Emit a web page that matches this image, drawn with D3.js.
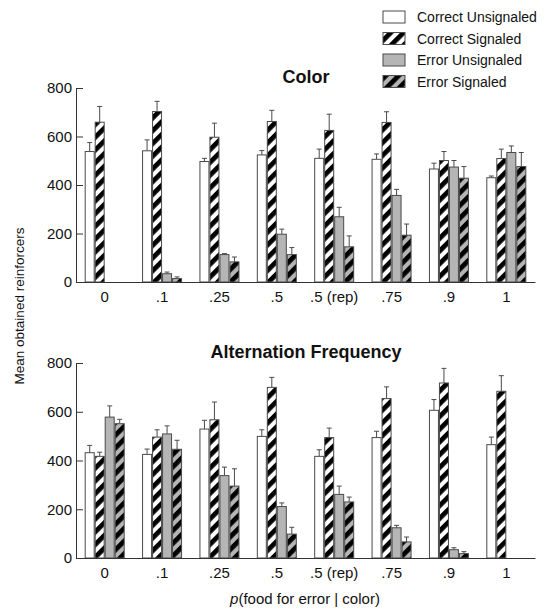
<!DOCTYPE html>
<html><head><meta charset="utf-8">
<script src="https://cdn.jsdelivr.net/npm/d3@7"></script>
<style>body{margin:0;background:#fff;} text{font-family:"Liberation Sans",Arial,sans-serif;}</style>
</head><body><svg id="c" width="555" height="610"></svg>
<script>
const categories = ["0", ".1", ".25", ".5", ".5 (rep)", ".75", ".9", "1"];
const seriesNames = ["Correct Unsignaled", "Correct Signaled", "Error Unsignaled", "Error Signaled"];
const yTicks = [0, 200, 400, 600, 800];

// Color panel
const colorCU = [538, 541, 497, 524, 510, 506, 466, 430];
const colorCU_err = [575, 586, 510, 542, 548, 528, 490, 437];
const colorCS = [659, 703, 597, 662, 625, 658, 501, 509];
const colorCS_err = [724, 745, 655, 708, 692, 702, 538, 548];
const colorEU = [null, 34, 113, 197, 269, 357, 474, 534];
const colorEU_err = [null, 41, 117, 218, 308, 382, 501, 561];
const colorES = [null, 14, 83, 113, 145, 193, 428, 476];
const colorES_err = [null, 21, 103, 142, 190, 239, 476, 534];

// Alternation Frequency panel
const altCU = [432, 425, 529, 499, 417, 494, 606, 465];
const altCU_err = [462, 447, 565, 526, 444, 520, 650, 496];
const altCS = [417, 496, 567, 700, 494, 654, 718, 684];
const altCS_err = [434, 526, 640, 741, 533, 702, 778, 748];
const altEU = [578, 509, 338, 211, 261, 124, 34, null];
const altEU_err = [624, 542, 373, 226, 295, 134, 42, null];
const altES = [551, 446, 295, 98, 230, 66, 18, null];
const altES_err = [569, 483, 366, 126, 250, 86, 26, null];

const svg = d3.select("#c");
const defs = svg.append("defs");
function hatch(id, bg){
  const p = defs.append("pattern").attr("id", id).attr("patternUnits","userSpaceOnUse")
    .attr("width", 9).attr("height", 9).attr("patternTransform","rotate(45)");
  p.append("rect").attr("width",9).attr("height",9).attr("fill",bg);
  p.append("rect").attr("width",4.8).attr("height",9).attr("fill","#000");
}
hatch("hw", "#fff");
hatch("hg", "#b5b5b5");
const fills = ["#fff", "url(#hw)", "#b5b5b5", "url(#hg)"];
const strokeC = "#4a4a4a";

const x = d3.scaleBand().domain(categories).range([76, 535]);
const barW = 9, barStep = 10;

function panel(title, y0, y1, data){
  const y = d3.scaleLinear().domain([0, 800]).range([y0, y1]);
  const g = svg.append("g");
  data.forEach((s, k) => {
    categories.forEach((c, i) => {
      const v = s.vals[i];
      if (v == null) return;
      const bx = x(c) + x.bandwidth()/2 - 19.5 + k*barStep;
      const e = s.errs[i];
      const cx = bx + barW/2;
      g.append("line").attr("x1", cx).attr("x2", cx).attr("y1", y(v)).attr("y2", y(e))
        .attr("stroke", strokeC).attr("stroke-width", 1);
      g.append("line").attr("x1", cx-2.5).attr("x2", cx+2.5).attr("y1", y(e)).attr("y2", y(e))
        .attr("stroke", strokeC).attr("stroke-width", 1);
      g.append("rect").attr("x", bx).attr("y", y(v)).attr("width", barW).attr("height", y(0)-y(v))
        .attr("fill", fills[k]).attr("stroke", strokeC).attr("stroke-width", 1);
    });
  });
  const ya = g.append("g").attr("transform", "translate(76,0)")
    .call(d3.axisLeft(y).tickValues(yTicks).tickSizeInner(-7).tickSizeOuter(0).tickPadding(4));
  ya.select(".domain").attr("stroke", "#333");
  ya.selectAll(".tick line").attr("stroke", "#333");
  ya.selectAll("text").attr("font-size", 15).attr("fill", "#111").attr("font-family", "Liberation Sans, Arial, sans-serif");
  const xa = g.append("g").attr("transform", `translate(0,${y0})`)
    .call(d3.axisBottom(x).tickSize(0).tickPadding(9));
  xa.select(".domain").attr("stroke", "#333");
  xa.selectAll("text").attr("font-size", 15).attr("fill", "#111").attr("font-family", "Liberation Sans, Arial, sans-serif");
  g.append("text").attr("x", 306).attr("y", y1 - 5).attr("text-anchor", "middle")
    .attr("font-size", 18).attr("font-weight", "bold").attr("fill", "#111").text(title);
}

panel("Color", 282, 88, [
  {vals: colorCU, errs: colorCU_err}, {vals: colorCS, errs: colorCS_err},
  {vals: colorEU, errs: colorEU_err}, {vals: colorES, errs: colorES_err}]);
panel("Alternation Frequency", 558, 363, [
  {vals: altCU, errs: altCU_err}, {vals: altCS, errs: altCS_err},
  {vals: altEU, errs: altEU_err}, {vals: altES, errs: altES_err}]);

const lg = svg.append("g");
seriesNames.forEach((n, k) => {
  const yy = 17 + k*21.5;
  lg.append("rect").attr("x", 383).attr("y", yy-6).attr("width", 22).attr("height", 12)
    .attr("fill", fills[k]).attr("stroke", strokeC).attr("stroke-width", 1);
  lg.append("text").attr("x", 417).attr("y", yy+5).attr("font-size", 14).attr("fill", "#111").text(n);
});

svg.append("text").attr("transform", "translate(24,306) rotate(-90)").attr("text-anchor", "middle")
  .attr("font-size", 13.5).attr("fill", "#111").text("Mean obtained reinforcers");
const xt = svg.append("text").attr("x", 305).attr("y", 604).attr("text-anchor", "middle")
  .attr("font-size", 15).attr("fill", "#111");
xt.append("tspan").attr("font-style", "italic").text("p");
xt.append("tspan").text("(food for error | color)");
</script></body></html>
